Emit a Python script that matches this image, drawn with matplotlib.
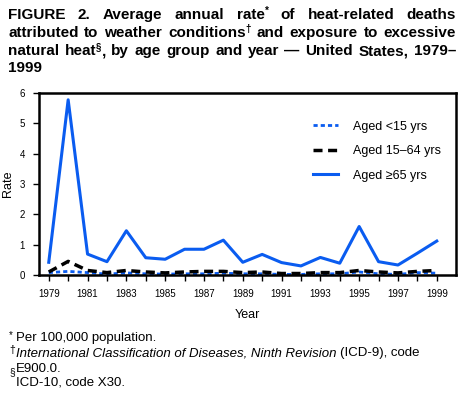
import matplotlib
matplotlib.use('Agg')
import matplotlib.pyplot as plt

plt.rcParams['font.family'] = ['Liberation Sans', 'DejaVu Sans']

years = list(range(1979, 2000))
aged_under15 = [0.08, 0.12, 0.08, 0.03, 0.07, 0.04, 0.03, 0.04, 0.04, 0.06, 0.04,
                0.04, 0.02, 0.02, 0.04, 0.04, 0.10, 0.04, 0.02, 0.08, 0.06]
aged_15_64 = [0.10, 0.45, 0.15, 0.08, 0.15, 0.10, 0.07, 0.10, 0.12, 0.12, 0.08,
              0.10, 0.05, 0.05, 0.08, 0.08, 0.15, 0.10, 0.07, 0.12, 0.15]
aged_65plus = [0.42, 5.78, 0.69, 0.44, 1.46, 0.57, 0.52, 0.85, 0.85, 1.15, 0.42,
               0.68, 0.41, 0.30, 0.58, 0.39, 1.60, 0.44, 0.33, 0.72, 1.12]
labels = ['Aged <15 yrs', 'Aged 15\u201364 yrs', 'Aged \u226565 yrs']

# title words; "|" separates normal text from superscript (odd parts are superscript)
title_lines = [
    'FIGURE 2. Average annual rate|*| of heat-related deaths',
    'attributed to weather conditions|\u2020| and exposure to excessive',
    'natural heat|\u00a7|, by age group and year \u2014 United States, 1979\u2013',
    '1999',
]

blue = '#0a5cf0'
W, H = 465, 398

fig = plt.figure(figsize=(4.65, 3.98), dpi=100)
ax = fig.add_axes([0.084, 0.309, 0.897, 0.457])

ax.plot(years, aged_under15, color=blue, lw=2, ls=(0, (1.5, 1.1)), label=labels[0])
ax.plot(years, aged_15_64, color='black', lw=2.5, ls=(0, (2.6, 1.6)), label=labels[1])
ax.plot(years, aged_65plus, color=blue, lw=2.2, label=labels[2])

ax.set_xlim(1978.5, 2000)
ax.set_ylim(0, 6)
ax.set_xticks(years)
ax.set_xticklabels([str(y) if y % 2 == 1 else '' for y in years])
ax.set_yticks(range(0, 7))
ax.tick_params(labelsize=7, length=4, width=1, pad=6)
for s in ax.spines.values():
    s.set_linewidth(1.8)
ax.set_xlabel('Year', fontsize=9, labelpad=7)
ax.set_ylabel('Rate', fontsize=9, labelpad=4)

ax.legend(loc='upper right', bbox_to_anchor=(0.99, 0.91), frameon=False,
          fontsize=9, handlelength=2.0, labelspacing=1.0, handletextpad=1.2)

# justified bold title, placed word by word
renderer = fig.canvas.get_renderer()
tsize, ssize = 11, 7


def width(s, size):
    t = fig.text(0, 0, s, fontsize=size, fontweight='bold')
    w = t.get_window_extent(renderer).width
    t.remove()
    return w


space = width('a a', tsize) - width('aa', tsize)
x_left, x_right = 8, 456
baselines = [19, 37, 55, 72]
for i, line in enumerate(title_lines):
    words = line.split(' ')
    parts = [w.split('|') for w in words]
    widths = [sum(width(p, ssize if k % 2 else tsize) for k, p in enumerate(ps) if p)
              for ps in parts]
    if i < len(title_lines) - 1:
        gap = (x_right - x_left - sum(widths)) / (len(words) - 1)
    else:
        gap = space
    x = x_left
    y = baselines[i]
    for ps in parts:
        for k, p in enumerate(ps):
            if not p:
                continue
            sup = k % 2 == 1
            size = ssize if sup else tsize
            fig.text(x / W, 1 - (y - (5 if sup else 0)) / H, p, fontsize=size,
                     fontweight='bold', va='baseline')
            x += width(p, size)
        x += gap

# footnotes
fs = 9.5
fig.text(9 / W, 0.157, '*', fontsize=7, va='center')
fig.text(16 / W, 0.150, 'Per 100,000 population.', fontsize=fs, va='center')
fig.text(9 / W, 0.120, '\u2020', fontsize=7.5, va='center')
t1 = fig.text(16 / W, 0.112, 'International Classification of Diseases, Ninth Revision ',
              fontsize=fs, style='italic', va='center')
bb = t1.get_window_extent(renderer).transformed(fig.transFigure.inverted())
fig.text(bb.x1, 0.112, '(ICD-9), code', fontsize=fs, va='center')
fig.text(16 / W, 0.074, 'E900.0.', fontsize=fs, va='center')
fig.text(9 / W, 0.064, '\u00a7', fontsize=7.5, va='center')
fig.text(16 / W, 0.039, 'ICD-10, code X30.', fontsize=fs, va='center')

fig.savefig('out.png', dpi=100)
